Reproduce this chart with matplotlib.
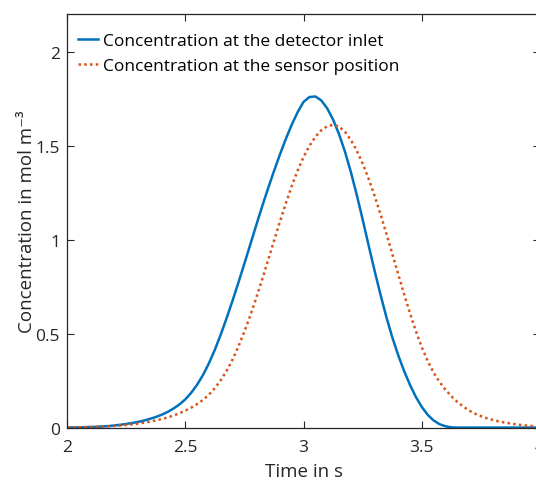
import matplotlib
matplotlib.use("Agg")
from matplotlib import pyplot as plt

plt.rcParams['font.family'] = ['Open Sans', 'DejaVu Sans']

# time axis (s) and the two concentration curves (mol m^-3)
time = [2.000, 2.025, 2.050, 2.075, 2.100, 2.125, 2.150, 2.175, 2.200, 2.225,
        2.250, 2.275, 2.300, 2.325, 2.350, 2.375, 2.400, 2.425, 2.450, 2.475,
        2.500, 2.525, 2.550, 2.575, 2.600, 2.625, 2.650, 2.675, 2.700, 2.725,
        2.750, 2.775, 2.800, 2.825, 2.850, 2.875, 2.900, 2.925, 2.950, 2.975,
        3.000, 3.025, 3.050, 3.075, 3.100, 3.125, 3.150, 3.175, 3.200, 3.225,
        3.250, 3.275, 3.300, 3.325, 3.350, 3.375, 3.400, 3.425, 3.450, 3.475,
        3.500, 3.525, 3.550, 3.575, 3.600, 3.625, 3.650, 3.675, 3.700, 3.725,
        3.750, 3.775, 3.800, 3.825, 3.850, 3.875, 3.900, 3.925, 3.950, 3.975,
        4.000]

inlet = [0.000, 0.001, 0.001, 0.002, 0.003, 0.004, 0.006, 0.008, 0.011, 0.015,
         0.019, 0.024, 0.030, 0.037, 0.046, 0.056, 0.068, 0.083, 0.101, 0.123,
         0.150, 0.185, 0.228, 0.280, 0.342, 0.414, 0.495, 0.583, 0.676, 0.773,
         0.873, 0.975, 1.077, 1.177, 1.273, 1.365, 1.453, 1.536, 1.612, 1.679,
         1.734, 1.760, 1.763, 1.742, 1.700, 1.640, 1.563, 1.470, 1.362, 1.240,
         1.108, 0.972, 0.838, 0.710, 0.590, 0.482, 0.387, 0.302, 0.228, 0.163,
         0.110, 0.068, 0.038, 0.018, 0.007, 0.001, 0.000, 0.000, 0.000, 0.000,
         0.000, 0.000, 0.000, 0.000, 0.000, 0.000, 0.000, 0.000, 0.000, 0.000,
         0.000]

sensor = [0.001, 0.001, 0.002, 0.002, 0.003, 0.004, 0.005, 0.007, 0.009, 0.011,
          0.014, 0.017, 0.021, 0.026, 0.031, 0.038, 0.045, 0.054, 0.064, 0.076,
          0.090, 0.106, 0.125, 0.147, 0.175, 0.210, 0.252, 0.302, 0.362, 0.432,
          0.511, 0.597, 0.690, 0.788, 0.890, 0.993, 1.095, 1.193, 1.285, 1.368,
          1.440, 1.500, 1.548, 1.583, 1.604, 1.612, 1.603, 1.575, 1.532, 1.475,
          1.406, 1.326, 1.236, 1.138, 1.034, 0.926, 0.818, 0.712, 0.610, 0.514,
          0.428, 0.355, 0.293, 0.243, 0.202, 0.167, 0.137, 0.112, 0.091, 0.074,
          0.061, 0.050, 0.041, 0.033, 0.027, 0.022, 0.017, 0.013, 0.010, 0.007,
          0.005]

x_ticks = [2, 2.5, 3, 3.5, 4]
x_labels = ['2', '2.5', '3', '3.5', '4']
y_ticks = [0, 0.5, 1, 1.5, 2]
y_labels = ['0', '0.5', '1', '1.5', '2']

fig = plt.figure(figsize=(5.36, 4.81), dpi=100)
ax = fig.add_axes([0.125, 0.109, 0.8825, 0.859])

ax.plot(time, inlet, color='#0072BD', lw=1.8, label='Concentration at the detector inlet')
ax.plot(time, sensor, color='#D95319', lw=1.8, linestyle=(0, (1, 1.3)),
        label='Concentration at the sensor position')

ax.set_xlim(2, 4)
ax.set_ylim(0, 2.2)
ax.set_xticks(x_ticks)
ax.set_xticklabels(x_labels)
ax.set_yticks(y_ticks)
ax.set_yticklabels(y_labels)
ax.tick_params(direction='in', top=True, right=True, length=5, width=0.8,
               labelsize=12.5, colors='#262626')
ax.tick_params(axis='x', pad=8)
ax.tick_params(axis='y', pad=5)
for s in ax.spines.values():
    s.set_color('#262626')
    s.set_linewidth(0.9)

ax.set_xlabel('Time in s', fontsize=13.5, color='#262626', labelpad=5)
ax.set_ylabel('Concentration in mol m⁻³', fontsize=13.5, color='#262626', labelpad=0)

ax.legend(loc='upper left', bbox_to_anchor=(0.008, 0.972), borderaxespad=0,
          frameon=False, fontsize=12.5, handlelength=1.15,
          handletextpad=0.28, labelspacing=0.5)

fig.savefig('out.png', dpi=100)
